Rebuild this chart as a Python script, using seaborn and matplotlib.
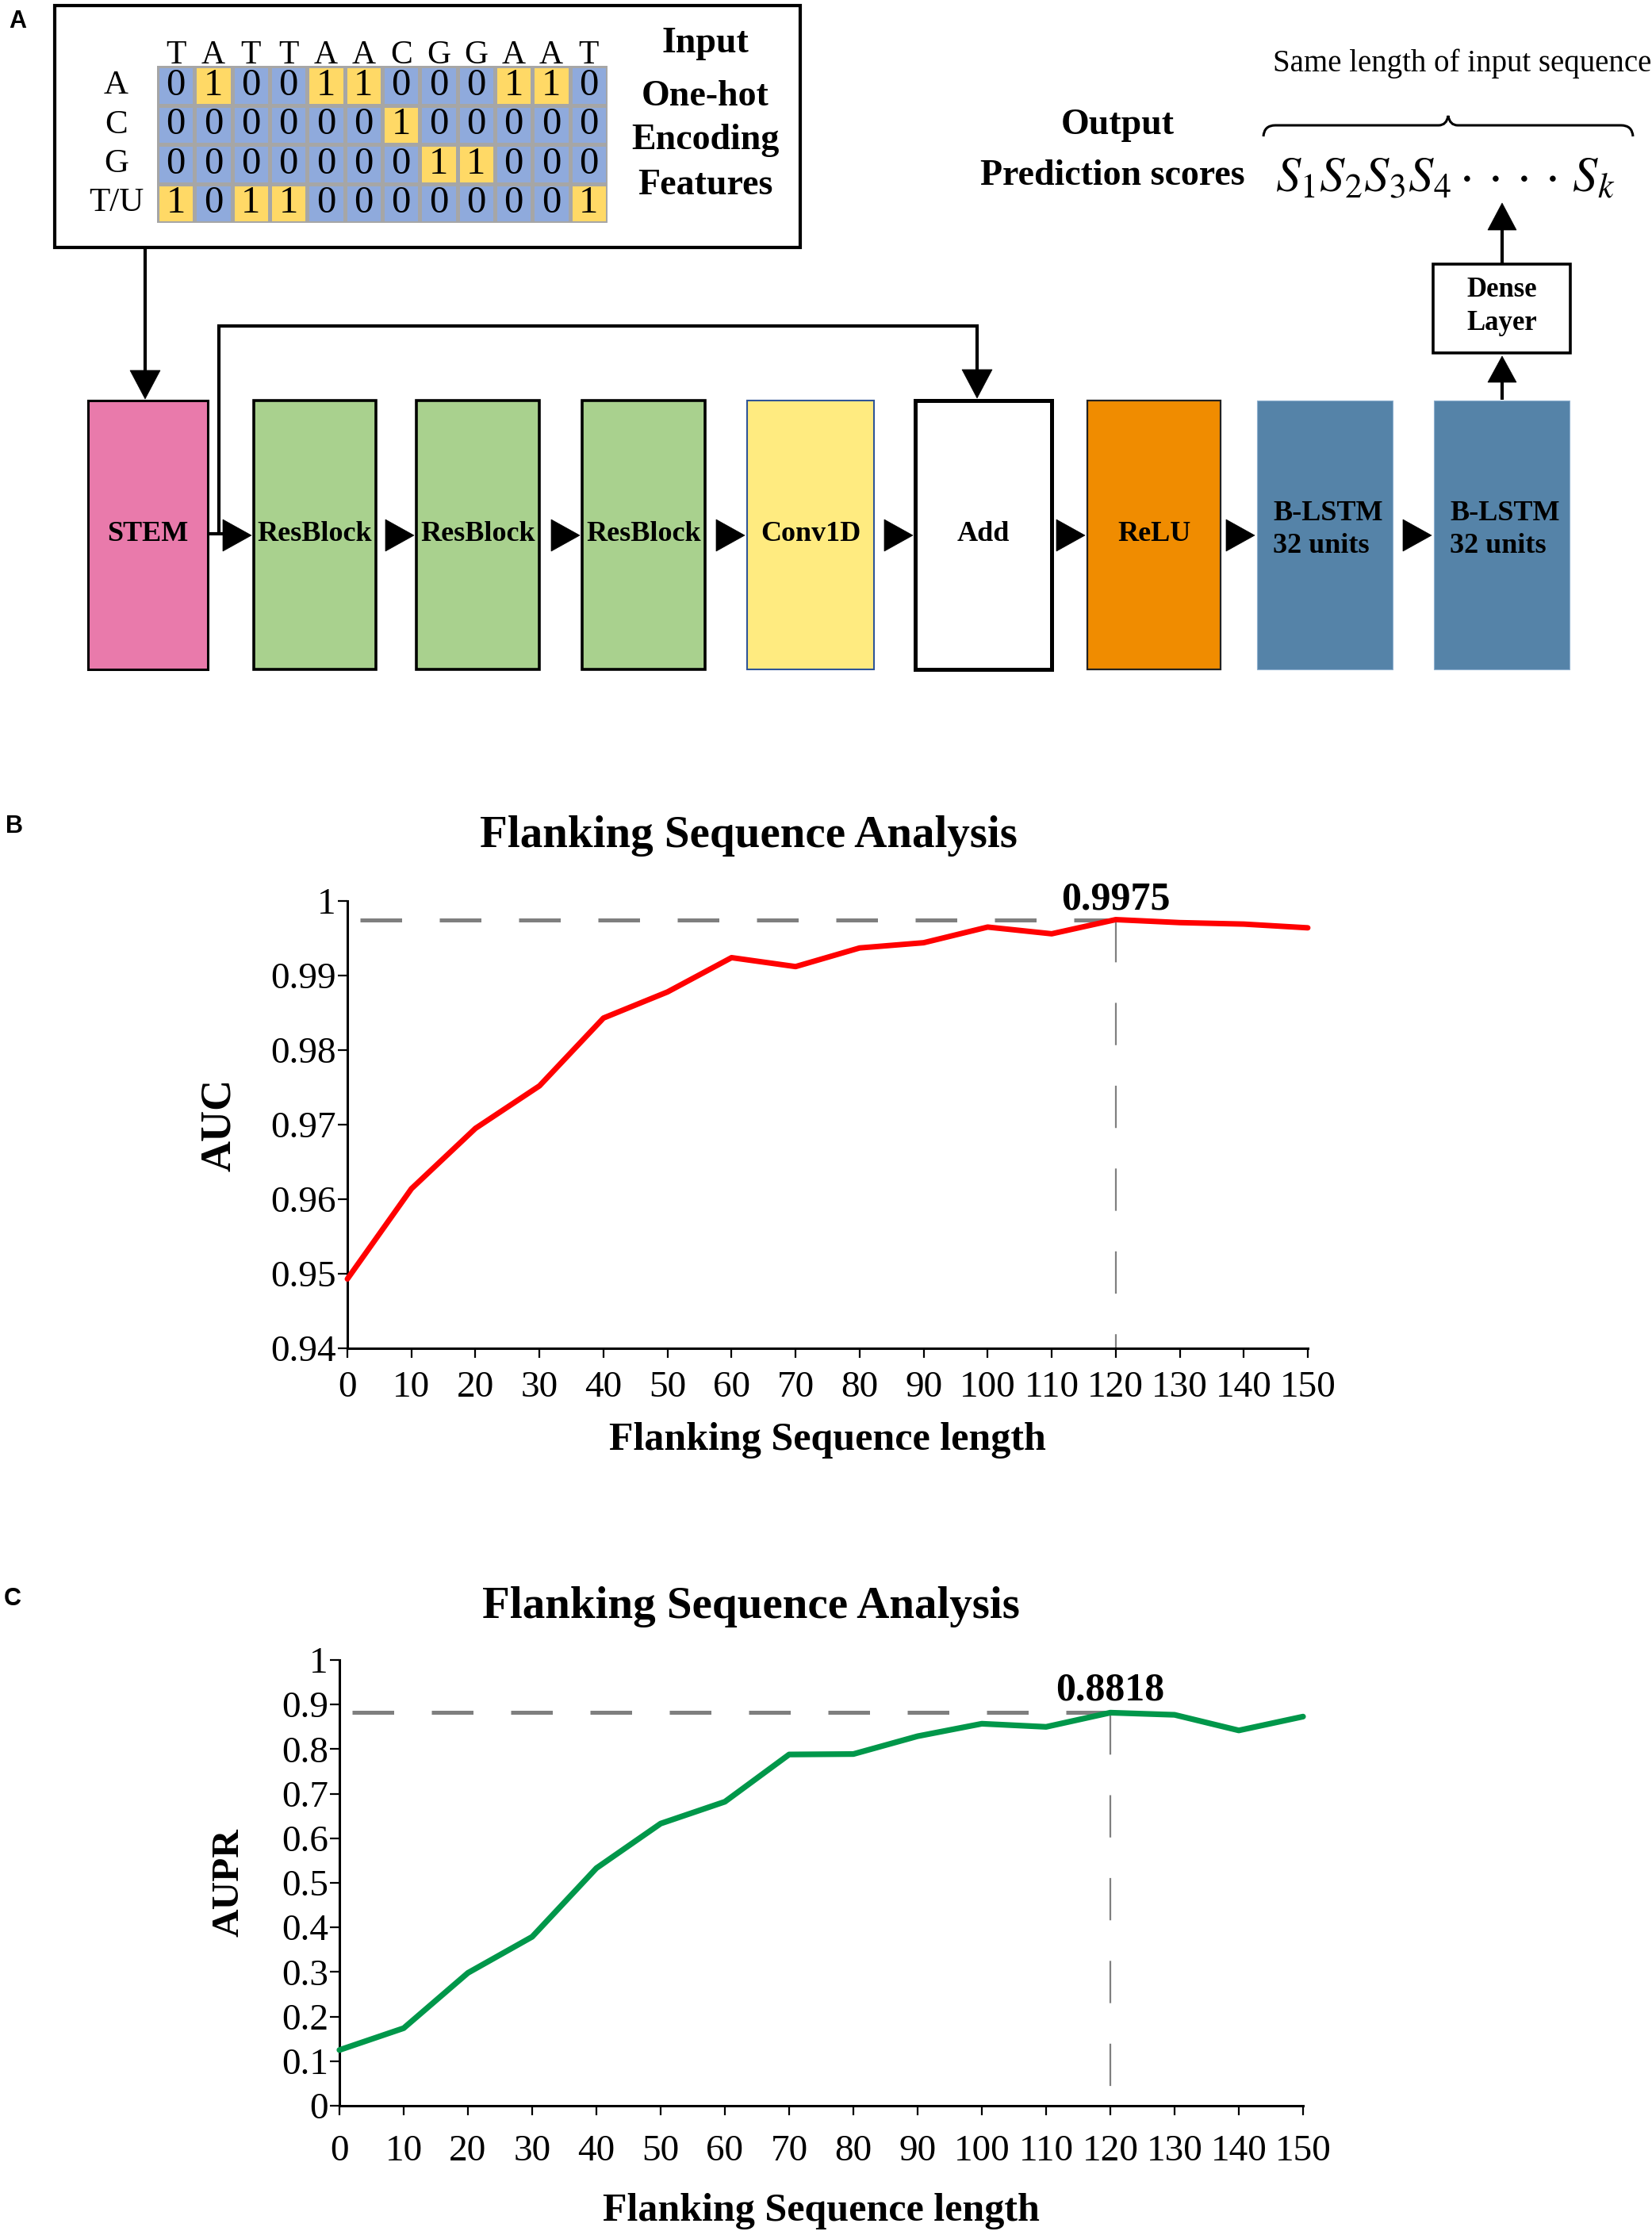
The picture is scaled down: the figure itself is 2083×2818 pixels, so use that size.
import matplotlib
matplotlib.use("Agg")
import matplotlib.pyplot as plt
import numpy as np
import pandas as pd
import seaborn as sns
from matplotlib.colors import ListedColormap
from matplotlib.patches import Rectangle, Polygon, PathPatch
from matplotlib.path import Path

# Input example for the one-hot table
sequence = list("TATTAACGGAAT")
bases = ["A", "C", "G", "T/U"]
input_caption = ["Input", "One-hot", "Encoding", "Features"]

# Network blocks, left to right
block_labels = ["STEM", "ResBlock", "ResBlock", "ResBlock", "Conv1D", "Add", "ReLU",
                "B-LSTM\n32 units", "B-LSTM\n32 units"]
block_colors = ["#E97AAB", "#A9D18E", "#A9D18E", "#A9D18E", "#FFEB80", "#FFFFFF",
                "#F08C00", "#5583A8", "#5583A8"]

# Flanking sequence analysis
flank_lengths = [0, 10, 20, 30, 40, 50, 60, 70, 80, 90, 100, 110, 120, 130, 140, 150]
auc_values = [0.9493, 0.9614, 0.9695, 0.9752, 0.9843, 0.9878, 0.9924, 0.9912,
              0.9937, 0.9944, 0.9965, 0.9956, 0.9975, 0.9971, 0.9969, 0.9964]
aupr_values = [0.125, 0.174, 0.298, 0.379, 0.533, 0.633, 0.682, 0.788,
               0.789, 0.829, 0.857, 0.850, 0.8818, 0.877, 0.842, 0.873]
auc_ticks = [0.94, 0.95, 0.96, 0.97, 0.98, 0.99, 1.0]
auc_tick_labels = ["0.94", "0.95", "0.96", "0.97", "0.98", "0.99", "1"]
aupr_ticks = [0, 0.1, 0.2, 0.3, 0.4, 0.5, 0.6, 0.7, 0.8, 0.9, 1.0]
aupr_tick_labels = ["0", "0.1", "0.2", "0.3", "0.4", "0.5", "0.6", "0.7", "0.8", "0.9", "1"]

W, H, DPI = 2083, 2818, 100

sns.set_theme(style = "ticks")
plt.rcParams["font.family"] = ["Liberation Serif", "DejaVu Serif"]
plt.rcParams["mathtext.fontset"] = "stix"
plt.rcParams["text.color"] = "black"
plt.rcParams["axes.labelcolor"] = "black"
plt.rcParams["xtick.color"] = "black"
plt.rcParams["ytick.color"] = "black"

fig = plt.figure(figsize = (W / DPI, H / DPI), dpi = DPI)
fig.patch.set_facecolor("white")

# Panel A is drawn in pixel coordinates on a full-figure overlay
diag = fig.add_axes([0, 0, 1, 1])
diag.set_xlim(0, W)
diag.set_ylim(H, 0)
diag.axis("off")


def arrow_head(ax, tip, direction, size = 38, depth = 36):
    x, y = tip
    h = size / 2
    if direction == "down":
        pts = [(x - h, y - depth), (x + h, y - depth), (x, y)]
    elif direction == "up":
        pts = [(x - h, y + depth), (x + h, y + depth), (x, y)]
    else:
        pts = [(x - depth, y - h), (x - depth, y + h), (x, y)]
    ax.add_patch(Polygon(pts, closed = True, facecolor = "black", edgecolor = "black", lw = 0.5))


# input box
diag.add_patch(Rectangle((69, 7), 940, 305, fill = False, edgecolor = "black", lw = 3))
for txt, yy in zip(input_caption, [55, 122, 177, 234]):
    diag.text(889, yy, txt, ha = "center", va = "center", fontsize = 33, fontweight = "bold")

# arrow from input box to STEM
diag.plot([183, 183], [313, 470], color = "black", lw = 3, solid_capstyle = "butt")
arrow_head(diag, (183, 503), "down")

# blocks
block_left = [111, 320, 525, 734, 942, 1154, 1371, 1585, 1808]
block_right = [262, 474, 680, 889, 1102, 1326, 1539, 1756, 1979]
block_edge = ["black", "black", "black", "black", "#2F5597", "black", "#222222", "#8EB0CF", "#8EB0CF"]
block_lw = [2.2, 2.6, 2.6, 2.6, 1.5, 3.6, 1.6, 0.8, 0.8]
top, bottom = 505, 844
for i, label in enumerate(block_labels):
    diag.add_patch(Rectangle((block_left[i], top), block_right[i] - block_left[i], bottom - top,
                             facecolor = block_colors[i], edgecolor = block_edge[i], lw = block_lw[i]))
    if "\n" in label:
        diag.text(block_left[i] + 20, 668, label, ha = "left", va = "center", fontsize = 26,
                  fontweight = "bold", linespacing = 1.3)
    else:
        diag.text((block_left[i] + block_right[i]) / 2, 673, label, ha = "center", va = "center",
                  fontsize = 26, fontweight = "bold")
    if i > 0:
        arrow_head(diag, (block_left[i] - 3, 675), "right", size = 40, depth = 36)

# STEM connector and skip connection
diag.plot([262, 285], [673, 673], color = "black", lw = 3, solid_capstyle = "butt")
diag.plot([276, 276, 1232, 1232], [673, 411, 411, 468], color = "black", lw = 3,
          solid_joinstyle = "miter", solid_capstyle = "butt")
arrow_head(diag, (1232, 502), "down")

# dense layer and output
diag.add_patch(Rectangle((1807, 333), 173, 112, facecolor = "white", edgecolor = "black", lw = 2.6))
diag.text(1894, 365, "Dense", ha = "center", va = "center", fontsize = 25, fontweight = "bold")
diag.text(1894, 408, "Layer", ha = "center", va = "center", fontsize = 25, fontweight = "bold")
diag.plot([1894, 1894], [504, 478], color = "black", lw = 3, solid_capstyle = "butt")
arrow_head(diag, (1894, 449), "up", size = 36, depth = 33)
diag.plot([1894, 1894], [333, 285], color = "black", lw = 3, solid_capstyle = "butt")
arrow_head(diag, (1894, 256), "up", size = 36, depth = 34)

diag.text(1409, 158, "Output", ha = "center", va = "center", fontsize = 33, fontweight = "bold")
diag.text(1403, 222, "Prediction scores", ha = "center", va = "center", fontsize = 33, fontweight = "bold")
diag.text(1844, 80, "Same length of input sequence", ha = "center", va = "center", fontsize = 28)
diag.text(1822, 226, r"$S_1S_2S_3S_4\cdot\cdot\cdot\cdot\,S_k$", ha = "center", va = "center", fontsize = 45)

brace = Path([(1593, 172), (1594, 158), (1608, 158), (1814, 158), (1824, 158), (1826, 146),
              (1828, 158), (1838, 158), (2044, 158), (2058, 158), (2059, 172)],
             [Path.MOVETO, Path.CURVE3, Path.CURVE3, Path.LINETO, Path.CURVE3, Path.CURVE3,
              Path.CURVE3, Path.CURVE3, Path.LINETO, Path.CURVE3, Path.CURVE3])
diag.add_patch(PathPatch(brace, fill = False, edgecolor = "black", lw = 2.2))

# one-hot heatmap
onehot = np.array([[int(s == b or (b == "T/U" and s in ("T", "U"))) for s in sequence] for b in bases])
heat_ax = fig.add_axes([198 / W, 1 - 281 / H, 568 / W, 198 / H])
sns.heatmap(onehot, ax = heat_ax, cmap = ListedColormap(["#8FAADC", "#FFD966"]), vmin = 0, vmax = 1,
            annot = True, fmt = "d", annot_kws = {"fontsize": 35, "color": "black"},
            linewidths = 2.5, linecolor = "#A6A6A6", cbar = False,
            xticklabels = sequence, yticklabels = bases)
heat_ax.xaxis.tick_top()
heat_ax.tick_params(axis = "x", length = 0, pad = -4, labelsize = 30, rotation = 0, labelcolor = "black")
heat_ax.tick_params(axis = "y", length = 0, pad = 37, labelsize = 31, rotation = 0, labelcolor = "black")
for lab in heat_ax.get_yticklabels():
    lab.set_ha("center")

# panel letters
for letter, (lx, ly) in zip(["A", "B", "C"], [(22, 27), (18, 1042), (16, 2016)]):
    fig.text(lx / W, 1 - ly / H, letter, ha = "center", va = "center", fontsize = 22,
             fontweight = "bold", family = ["Liberation Sans", "DejaVu Sans"])


def flank_panel(rect, values, color, width, ticks, tick_labels, ylim, ylabel, ylabel_size,
                ylabel_x, xlabel_y, title_xy, xpad, note_offset):
    ax = fig.add_axes(rect)
    ax.set_facecolor("none")
    sns.lineplot(x = flank_lengths, y = values, ax = ax, color = color, linewidth = width,
                 clip_on = False, zorder = 3)
    best_i = int(np.argmax(values))
    best_len, best_val = flank_lengths[best_i], values[best_i]
    ax.plot([2, best_len], [best_val, best_val], color = "#7F7F7F", linewidth = 3.6,
            ls = (0, (10.5, 9.5)), dash_capstyle = "butt", zorder = 1)
    ax.plot([best_len, best_len], [best_val, ylim[0]], color = "#808080", linewidth = 1.6,
            ls = (0, (24, 23)), dash_capstyle = "butt", zorder = 1)
    ax.annotate(f"{best_val:.4f}", xy = (best_len, best_val), xytext = (0, note_offset),
                textcoords = "offset pixels", ha = "center", va = "center", fontsize = 36,
                fontweight = "bold")
    ax.set_xlim(0, 150)
    ax.set_ylim(*ylim)
    ax.set_xticks(flank_lengths)
    ax.set_xticklabels([str(v) for v in flank_lengths])
    ax.set_yticks(ticks)
    ax.set_yticklabels(tick_labels)
    sns.despine(ax = ax)
    for side in ("left", "bottom"):
        ax.spines[side].set_linewidth(2.2)
        ax.spines[side].set_color("black")
    ax.tick_params(axis = "both", direction = "out", length = 8.6, width = 1.6, color = "black",
                   labelsize = 34, labelcolor = "black")
    ax.tick_params(axis = "y", pad = 1.5)
    ax.tick_params(axis = "x", pad = xpad)
    ax.grid(False)
    ax.set_ylabel(ylabel, fontsize = ylabel_size, fontweight = "bold", color = "black")
    ax.yaxis.set_label_coords(ylabel_x, 0.5)
    ax.set_xlabel("Flanking Sequence length", fontsize = 36, fontweight = "bold", color = "black")
    ax.xaxis.set_label_coords(0.5, xlabel_y)
    ax.text(title_xy[0], title_xy[1], "Flanking Sequence Analysis", transform = ax.transAxes,
            ha = "center", va = "center", fontsize = 41, fontweight = "bold", color = "black")
    return ax


ax_b = flank_panel([438 / W, 1 - 1700 / H, 1211 / W, 564 / H], auc_values, "#FF0000", 5,
                   auc_ticks, auc_tick_labels, (0.94, 1.0), "AUC", 39, -0.112, -0.165,
                   (0.418, 1.145), 12, 25)
ax_c = flank_panel([428 / W, 1 - 2655 / H, 1215 / W, 562 / H], aupr_values, "#00974A", 5.2,
                   aupr_ticks, aupr_tick_labels, (0, 1.0), "AUPR", 35.5, -0.097, -0.196,
                   (0.427, 1.12), 18, 28)

fig.savefig("out.png", dpi = DPI, facecolor = "white")
plt.close(fig)
